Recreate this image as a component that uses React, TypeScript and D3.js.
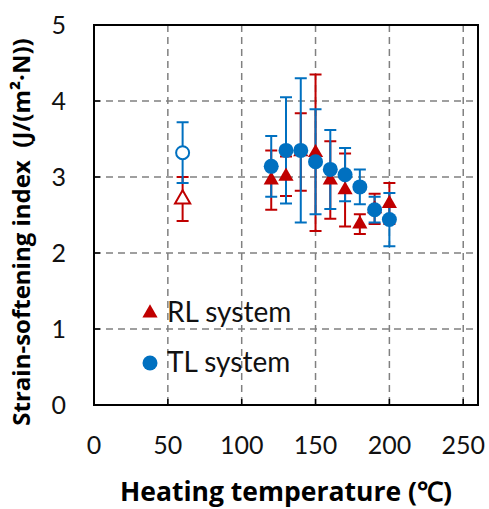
import React, { useEffect, useRef } from "react";
import * as d3 from "d3";

// heated samples
const temps = [120, 130, 140, 150, 160, 170, 180, 190, 200];
const rlMean = [2.96, 3.01, 3.33, 3.32, 2.96, 2.83, 2.38, 2.58, 2.65];
const rlErr = [0.39, 0.26, 0.51, 1.03, 0.51, 0.48, 0.13, 0.2, 0.27];
const tlMean = [3.14, 3.35, 3.35, 3.2, 3.1, 3.03, 2.87, 2.57, 2.44];
const tlErr = [0.4, 0.7, 0.95, 0.69, 0.52, 0.35, 0.23, 0.17, 0.35];

// unheated reference (open markers)
const refTemp = [60];
const rlRefMean = [2.71];
const rlRefErr = [0.29];
const tlRefMean = [3.32];
const tlRefErr = [0.4];

const xTicks = [0, 50, 100, 150, 200, 250];
const yTicks = [0, 1, 2, 3, 4, 5];

const RED = "#C00000";
const BLUE = "#0070C0";
const FONT = "Lato, 'Open Sans', sans-serif";
const TITLE_FONT = "'Open Sans', Lato, sans-serif";

export default function App() {
    const svgRef = useRef<SVGSVGElement>(null);

    useEffect(() => {
        if (!svgRef.current) return;
        const svg = d3.select(svgRef.current);
        svg.selectAll("*").remove();

        const left = 94, right = 478, top = 25, bottom = 405;
        const x = d3.scaleLinear().domain([0, 260]).range([left, right]);
        const y = d3.scaleLinear().domain([0, 5]).range([bottom, top]);

        // grid
        const grid = svg.append("g").attr("stroke", "#808080").attr("stroke-width", 1.5)
            .attr("stroke-dasharray", "7,5");
        grid.selectAll("line.v").data(xTicks.filter(d => d > 0)).join("line")
            .attr("class", "v")
            .attr("x1", d => x(d)).attr("x2", d => x(d))
            .attr("y1", top).attr("y2", bottom);
        grid.selectAll("line.h").data(yTicks.filter(d => d > 0 && d < 5)).join("line")
            .attr("class", "h")
            .attr("x1", left).attr("x2", right)
            .attr("y1", d => y(d)).attr("y2", d => y(d));

        // inside ticks
        const ticks = svg.append("g").attr("stroke", "#000").attr("stroke-width", 1.5);
        ticks.selectAll("line.xt").data(xTicks.filter(d => d > 0)).join("line")
            .attr("class", "xt")
            .attr("x1", d => x(d)).attr("x2", d => x(d))
            .attr("y1", bottom).attr("y2", bottom - 6);
        ticks.selectAll("line.yt").data(yTicks.filter(d => d > 0 && d < 5)).join("line")
            .attr("class", "yt")
            .attr("x1", left).attr("x2", left + 6)
            .attr("y1", d => y(d)).attr("y2", d => y(d));

        // frame
        svg.append("rect")
            .attr("x", left).attr("y", top)
            .attr("width", right - left).attr("height", bottom - top)
            .attr("fill", "none").attr("stroke", "#000").attr("stroke-width", 2);

        // tick labels
        svg.append("g").selectAll("text").data(xTicks).join("text")
            .attr("x", d => x(d)).attr("y", 454)
            .attr("text-anchor", "middle")
            .style("font-family", FONT).style("font-size", "25px").attr("fill", "#111")
            .text(d => d);
        svg.append("g").selectAll("text").data(yTicks).join("text")
            .attr("x", 66).attr("y", d => y(d) + 9)
            .attr("text-anchor", "end")
            .style("font-family", FONT).style("font-size", "25px").attr("fill", "#111")
            .text(d => d);

        // titles
        svg.append("text")
            .attr("x", 286).attr("y", 501)
            .attr("text-anchor", "middle")
            .style("font-family", TITLE_FONT).style("font-size", "26.5px").style("font-weight", "bold")
            .attr("fill", "#000")
            .text("Heating temperature (℃)");
        svg.append("text")
            .attr("transform", "translate(30,232) rotate(-90)")
            .attr("text-anchor", "middle")
            .style("font-family", TITLE_FONT).style("font-size", "24px").style("font-weight", "bold")
            .style("white-space", "pre")
            .attr("fill", "#000")
            .text("Strain-softening index  (J/(m²·N))");

        const errBars = (g: d3.Selection<SVGGElement, unknown, null, undefined>,
                         xs: number[], means: number[], errs: number[], color: string) => {
            const data = xs.map((t, i) => ({ t, m: means[i], e: errs[i] }));
            const eg = g.append("g").attr("stroke", color).attr("stroke-width", 2).attr("fill", "none");
            eg.selectAll("path").data(data).join("path")
                .attr("d", d => {
                    const cx = x(d.t), y1 = y(d.m + d.e), y2 = y(d.m - d.e), w = 6;
                    return `M${cx},${y1}V${y2}M${cx - w},${y1}H${cx + w}M${cx - w},${y2}H${cx + w}`;
                });
        };

        const plot = svg.append("g");
        errBars(plot, refTemp, rlRefMean, rlRefErr, RED);
        errBars(plot, temps, rlMean, rlErr, RED);
        errBars(plot, refTemp, tlRefMean, tlRefErr, BLUE);
        errBars(plot, temps, tlMean, tlErr, BLUE);

        const tri = d3.symbol(d3.symbolTriangle, 100);

        plot.append("g").selectAll("path").data(refTemp.map((t, i) => ({ t, m: rlRefMean[i] }))).join("path")
            .attr("d", tri)
            .attr("transform", d => `translate(${x(d.t)},${y(d.m)})`)
            .attr("fill", "#fff").attr("stroke", RED).attr("stroke-width", 2);
        plot.append("g").selectAll("path").data(temps.map((t, i) => ({ t, m: rlMean[i] }))).join("path")
            .attr("d", tri)
            .attr("transform", d => `translate(${x(d.t)},${y(d.m)})`)
            .attr("fill", RED);

        plot.append("g").selectAll("circle").data(refTemp.map((t, i) => ({ t, m: tlRefMean[i] }))).join("circle")
            .attr("cx", d => x(d.t)).attr("cy", d => y(d.m)).attr("r", 6.5)
            .attr("fill", "#fff").attr("stroke", BLUE).attr("stroke-width", 2);
        plot.append("g").selectAll("circle").data(temps.map((t, i) => ({ t, m: tlMean[i] }))).join("circle")
            .attr("cx", d => x(d.t)).attr("cy", d => y(d.m)).attr("r", 7.5)
            .attr("fill", BLUE);

        // legend
        const lg = svg.append("g");
        lg.append("path").attr("d", tri).attr("transform", "translate(150,313)").attr("fill", RED);
        lg.append("circle").attr("cx", 150).attr("cy", 363).attr("r", 7.5).attr("fill", BLUE);
        lg.selectAll("text").data(["RL system", "TL system"]).join("text")
            .attr("x", 167).attr("y", (d, i) => 322 + i * 50)
            .style("font-family", FONT).style("font-size", "28px").attr("fill", "#111")
            .text(d => d);
    }, []);

    return (
        <svg ref={svgRef} width={489} height={509}
            style={{ position: "absolute", left: 0, top: 0, background: "#fff" }} />
    );
}
